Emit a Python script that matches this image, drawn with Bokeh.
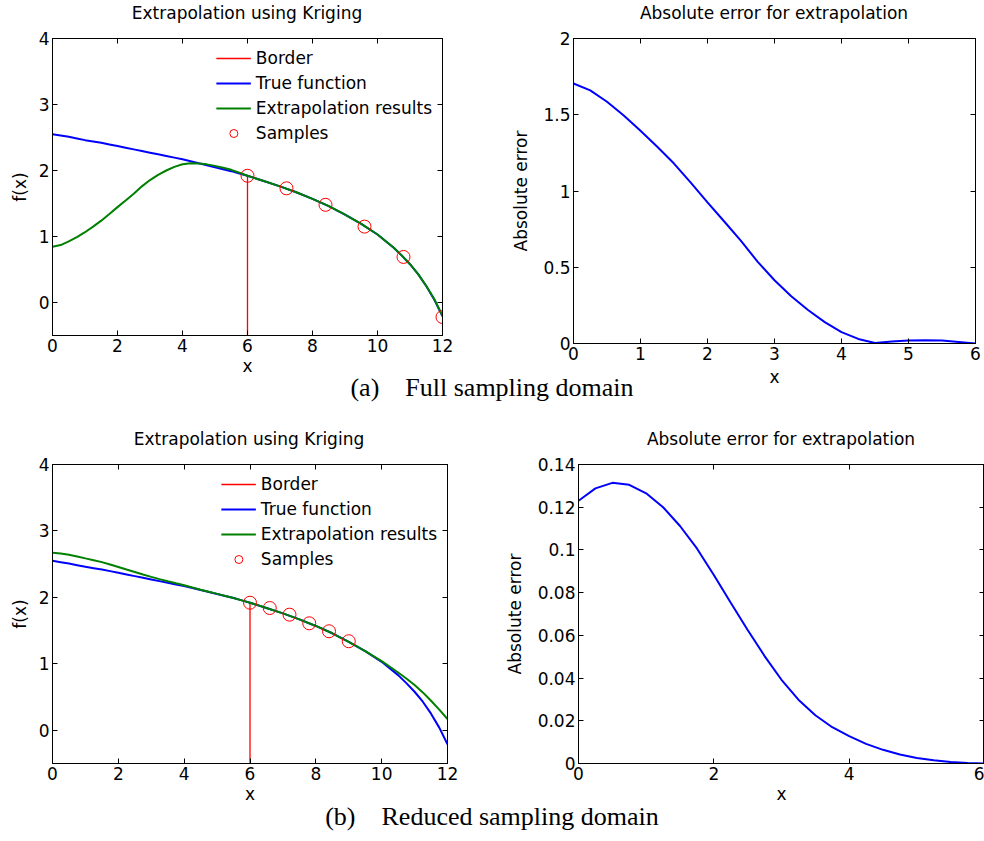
from bokeh.plotting import figure
from bokeh.models import (Div, Legend, LegendItem, FixedTicker, Range1d, LinearAxis,
                          NumeralTickFormatter)
from bokeh.layouts import column, row
from bokeh.embed import file_html
from bokeh.resources import INLINE

FONT = "DejaVu Sans"
FS = "17px"

# ---------------- data ----------------
x_curve = [0, 0.25, 0.5, 0.75, 1, 1.25, 1.5, 1.75, 2, 2.25, 2.5, 2.75, 3, 3.25, 3.5,
           3.75, 4, 4.25, 4.5, 4.75, 5, 5.25, 5.5, 5.75, 6,
           6.5, 7, 7.5, 8, 8.5, 9, 9.5, 10, 10.5,
           10.75, 11, 11.25, 11.5, 11.75, 12]
y_true = [2.55, 2.53, 2.51, 2.485, 2.46, 2.44, 2.42, 2.395, 2.37, 2.345, 2.32, 2.295,
          2.27, 2.245, 2.22, 2.195, 2.17, 2.14, 2.11, 2.08, 2.05, 2.02, 1.99, 1.955,
          1.92,
          1.84, 1.76, 1.67, 1.57, 1.46, 1.33, 1.19, 1.03, 0.83,
          0.71, 0.58, 0.43, 0.25, 0.04, -0.21]
y_extrap_full = [0.845, 0.87, 0.925, 0.99, 1.065, 1.15, 1.24, 1.34, 1.445, 1.545,
                 1.647, 1.76, 1.855, 1.935, 2.0, 2.055, 2.095, 2.11, 2.107, 2.093,
                 2.07, 2.042, 2.01, 1.965, 1.92,
                 1.84, 1.76, 1.67, 1.57, 1.46, 1.33, 1.19, 1.03, 0.83,
                 0.71, 0.58, 0.43, 0.25, 0.05, -0.20]
y_extrap_reduced = [2.673, 2.659, 2.641, 2.616, 2.587, 2.56, 2.531, 2.496, 2.458,
                    2.42, 2.383, 2.345, 2.309, 2.275, 2.243, 2.212, 2.183, 2.149,
                    2.116, 2.084, 2.053, 2.022, 1.991, 1.955, 1.92,
                    1.84, 1.76, 1.67, 1.57, 1.46, 1.33, 1.19, 1.04, 0.87,
                    0.78, 0.68, 0.57, 0.445, 0.31, 0.17]

x_samples_full = [6, 7.2, 8.4, 9.6, 10.8, 12]
y_samples_full = [1.92, 1.73, 1.48, 1.15, 0.69, -0.22]
x_samples_reduced = [6, 6.6, 7.2, 7.8, 8.4, 9.0]
y_samples_reduced = [1.92, 1.84, 1.74, 1.61, 1.49, 1.34]

border_x = [6, 6]
border_y = [-0.5, 1.92]

x_err = [0, 0.25, 0.5, 0.75, 1, 1.25, 1.5, 1.75, 2, 2.25, 2.5, 2.75, 3, 3.25, 3.5,
         3.75, 4, 4.25, 4.5, 4.75, 5, 5.25, 5.5, 5.75, 6]
err_full = [1.705, 1.66, 1.585, 1.495, 1.395, 1.29, 1.18, 1.055, 0.925, 0.80, 0.673,
            0.535, 0.415, 0.31, 0.22, 0.14, 0.075, 0.03, 0.003, 0.013, 0.02, 0.022,
            0.02, 0.01, 0.0]
err_reduced = [0.1230, 0.1288, 0.1314, 0.1305, 0.1265, 0.1200, 0.1112, 0.1007, 0.0883,
               0.0753, 0.0625, 0.0503, 0.0392, 0.0299, 0.0226, 0.0170, 0.0128, 0.0092,
               0.0064, 0.0042, 0.0026, 0.0015, 0.0007, 0.0002, 0.0]

xticks_f = [0, 2, 4, 6, 8, 10, 12]
yticks_f = [0, 1, 2, 3, 4]
xticks_e1 = [0, 1, 2, 3, 4, 5, 6]
yticks_e1 = [0, 0.5, 1, 1.5, 2]
xticks_e2 = [0, 2, 4, 6]
yticks_e2 = [0, 0.02, 0.04, 0.06, 0.08, 0.1, 0.12, 0.14]

titles = ["Extrapolation using Kriging", "Absolute error for extrapolation"]
captions = ["(a)", "Full sampling domain", "(b)", "Reduced sampling domain"]


def style_axis(ax, ticks):
    ax.ticker = FixedTicker(ticks=ticks)
    ax.formatter = NumeralTickFormatter(format="0.[00]")
    ax.major_tick_in = 5
    ax.major_tick_out = 0
    ax.minor_tick_line_color = None
    ax.axis_line_color = "black"
    ax.major_tick_line_color = "black"
    ax.major_label_text_font = FONT
    ax.major_label_text_font_size = FS
    ax.major_label_text_color = "black"
    ax.major_label_standoff = 3
    ax.axis_label_text_font = FONT
    ax.axis_label_text_font_size = FS
    ax.axis_label_text_font_style = "normal"
    ax.axis_label_text_color = "black"


def tick_only_axis(ticks):
    # box ticks on the opposite sides: drawn as minor ticks, so there are no labels
    ax = LinearAxis(ticker=FixedTicker(ticks=[], minor_ticks=ticks))
    ax.major_tick_line_color = None
    ax.minor_tick_line_color = "black"
    ax.minor_tick_in = 5
    ax.minor_tick_out = 0
    ax.major_tick_in = 0
    ax.major_tick_out = 0
    ax.major_label_standoff = 0
    ax.axis_line_color = "black"
    return ax


def make_fig(xr, yr, xt, yt, xlabel, ylabel, left, fw, right, top, fh, bottom,
             ylab_standoff, xlab_standoff=1):
    p = figure(frame_width=fw, frame_height=fh, min_border_left=left,
               min_border_right=right, min_border_top=top, min_border_bottom=bottom,
               x_range=Range1d(*xr), y_range=Range1d(*yr), output_backend="svg",
               toolbar_location=None, title_location=None)
    p.grid.visible = False
    p.outline_line_color = "black"
    p.outline_line_alpha = 1
    p.outline_line_width = 1
    p.background_fill_color = "white"
    p.border_fill_color = "white"
    p.xaxis.axis_label = xlabel
    p.yaxis.axis_label = ylabel
    style_axis(p.xaxis[0], xt)
    style_axis(p.yaxis[0], yt)
    p.xaxis[0].axis_label_standoff = xlab_standoff
    p.yaxis[0].axis_label_standoff = ylab_standoff
    p.add_layout(tick_only_axis(yt), "right")
    p.add_layout(tick_only_axis(xt), "above")
    return p


def kriging_panel(p, y_ext, xs, ys):
    rb = p.line(border_x, border_y, line_color="#ff0000", line_width=1.3)
    rt = p.line(x_curve, y_true, line_color="#0000ff", line_width=2)
    rg = p.line(x_curve, y_ext, line_color="#008000", line_width=2)
    rs = p.scatter(xs, ys, marker="circle", size=13, fill_color=None,
                   line_color="#ff0000", line_width=1)
    leg = Legend(items=[LegendItem(label="Border", renderers=[rb]),
                        LegendItem(label="True function", renderers=[rt]),
                        LegendItem(label="Extrapolation results", renderers=[rg]),
                        LegendItem(label="Samples", renderers=[rs])],
                 location="top_right")
    leg.border_line_alpha = 0
    leg.background_fill_alpha = 0
    leg.label_text_font = FONT
    leg.label_text_font_size = FS
    leg.label_text_color = "black"
    leg.glyph_width = 35
    leg.glyph_height = 20
    leg.label_height = 20
    leg.spacing = 5
    leg.padding = 0
    leg.margin = 10
    leg.label_standoff = 5
    p.add_layout(leg)


def title_div(centers, texts, height, line_height):
    spans = "".join(
        f'<div style="position:absolute; top:0; left:{c - 200}px; width:400px; '
        f'text-align:center; white-space:nowrap;">{t}</div>'
        for c, t in zip(centers, texts))
    html = (f'<div style="position:relative; width:984px; height:{height}px; '
            f"font-family:'{FONT}'; font-size:{FS}; line-height:{line_height}px; "
            f'color:#000;">{spans}</div>')
    return Div(text=html, width=984, height=height, margin=(0, 0, 0, 0))


p1 = make_fig((0, 12), (-0.5, 4), xticks_f, yticks_f, "x", "f(x)",
              52, 390, 58, 10, 297, 37, 6)
kriging_panel(p1, y_extrap_full, x_samples_full, y_samples_full)

p2 = make_fig((0, 6), (0, 2), xticks_e1, yticks_e1, "x", "Absolute error",
              73, 402, 9, 12, 305, 45, 9, 4)
p2.line(x_err, err_full, line_color="#0000ff", line_width=2)

p3 = make_fig((0, 12), (-0.5, 4), xticks_f, yticks_f, "x", "f(x)",
              52, 395, 53, 10, 299, 41, 6)
kriging_panel(p3, y_extrap_reduced, x_samples_reduced, y_samples_reduced)

p4 = make_fig((0, 6), (0, 0.14), xticks_e2, yticks_e2, "x", "Absolute error",
              78, 406, 0, 10, 299, 45, 10)
p4.line(x_err, err_reduced, line_color="#0000ff", line_width=2)

div_t1 = title_div([247, 774], titles, 26, 26)
div_t2 = title_div([249, 781], titles, 26, 22)

CAP_STYLE = ("display:block; width:976px; padding-left:8px; "
             "font-family:'Liberation Serif'; font-size:26px; line-height:30px; "
             "text-align:center; color:#000;")
div_a = Div(text=f'<div style="{CAP_STYLE}">{captions[0]}&emsp;{captions[1]}</div>',
            width=984, height=55, margin=(-16, 0, 0, 0))
div_b = Div(text=f'<div style="{CAP_STYLE} padding-top:6px;">{captions[2]}&emsp;{captions[3]}</div>',
            width=984, height=44, margin=(-12, 0, 0, 0))

layout = column(div_t1, row(p1, p2), div_a, div_t2, row(p3, p4), div_b)

open("out.html", "w").write(file_html(layout, INLINE))
